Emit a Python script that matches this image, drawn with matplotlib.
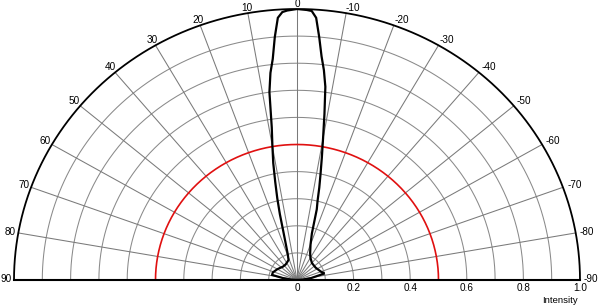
import numpy as np
import matplotlib
matplotlib.use("Agg")
import matplotlib.pyplot as plt

plt.rcParams['font.family'] = ['Liberation Sans', 'DejaVu Sans']

# radiation pattern, angle in degrees (positive = left side), relative intensity
angles = [90, 86, 82, 78, 72, 60, 45, 35, 27, 22, 19, 17, 15, 14, 13, 12, 11, 10, 9, 8, 7, 6, 5, 4, 3, 2, 0,
          -2, -3, -4, -5, -6, -7, -8, -9, -10, -11, -12, -13, -14, -15, -17, -20, -25, -30, -40, -55, -70,
          -76, -82, -86, -90]
intensity = [0.0, 0.02, 0.05, 0.09, 0.09, 0.08, 0.07, 0.07, 0.075, 0.08, 0.10, 0.13, 0.19, 0.25, 0.31, 0.37,
             0.44, 0.50, 0.57, 0.70, 0.77, 0.82, 0.90, 0.97, 0.99, 0.995, 1.0,
             0.997, 0.994, 0.97, 0.90, 0.83, 0.78, 0.72, 0.62, 0.53, 0.46, 0.40, 0.35, 0.30, 0.27, 0.18, 0.14,
             0.11, 0.095, 0.082, 0.08, 0.09, 0.10, 0.05, 0.02, 0.0]

grid_radii = [0.1, 0.2, 0.3, 0.4, 0.6, 0.7, 0.8, 0.9]
ref_radius = 0.5
spoke_angles = list(range(-80, 90, 10))
angle_labels = list(range(90, -91, -10))
r_ticks = [0, 0.2, 0.4, 0.6, 0.8, 1.0]
r_ticklabels = ['0', '0.2', '0.4', '0.6', '0.8', '1.0']


def to_xy(theta_deg, r):
    t = np.radians(np.asarray(theta_deg, dtype=float))
    r = np.asarray(r, dtype=float)
    return -r * np.sin(t), r * np.cos(t)


fig = plt.figure(figsize=(6, 3.05), dpi=100)
ax = fig.add_axes([14 / 600, 25 / 305, 566 / 600, 271 / 305])
ax.set_xlim(-1, 1)
ax.set_ylim(0, 1)
ax.axis('off')

arc = np.linspace(-90, 90, 361)
for rr in grid_radii:
    x, y = to_xy(arc, np.full_like(arc, rr))
    ax.plot(x, y, color='#8a8a8a', lw=0.75, zorder=1)

for a in spoke_angles:
    x, y = to_xy([a, a], [0, 1])
    ax.plot(x, y, color='#7a7a7a', lw=0.75, zorder=1)

x, y = to_xy(arc, np.full_like(arc, ref_radius))
ax.plot(x, y, color='#e01010', lw=1.2, zorder=2)

x, y = to_xy(arc, np.ones_like(arc))
ax.plot(x, y, color='black', lw=1.3, zorder=3, clip_on=False)
ax.plot([-1, 1], [0, 0], color='black', lw=1.5, zorder=3, clip_on=False)

x, y = to_xy(angles, intensity)
ax.plot(x, y, color='black', lw=1.6, zorder=4, solid_joinstyle='miter')

# angle labels round the outer arc
for a in angle_labels:
    x, y = to_xy(a, 1.0)
    t = np.radians(a)
    k = 5 + 3 * abs(np.sin(t))
    dx = -np.sin(t) * k
    dy = np.cos(t) * k
    if a < 0:
        dx += 3 + 3 * np.cos(t)
    if abs(a) == 90:
        dy += 1.5
    ax.annotate(str(a), (x, y), xytext=(dx * 0.72, dy * 0.72), textcoords='offset points',
                ha='center', va='center', fontsize=7.2, annotation_clip=False)

for v, lab in zip(r_ticks, r_ticklabels):
    ax.annotate(lab, (v, 0), xytext=(0, -2.2), textcoords='offset points',
                ha='center', va='top', fontsize=7.2, annotation_clip=False)

ax.annotate('Intensity', (1.0, 0), xytext=(-1.5, -14.5), textcoords='offset points',
            ha='right', va='center', fontsize=6.8, annotation_clip=False)

fig.savefig('out.png', dpi=100)
